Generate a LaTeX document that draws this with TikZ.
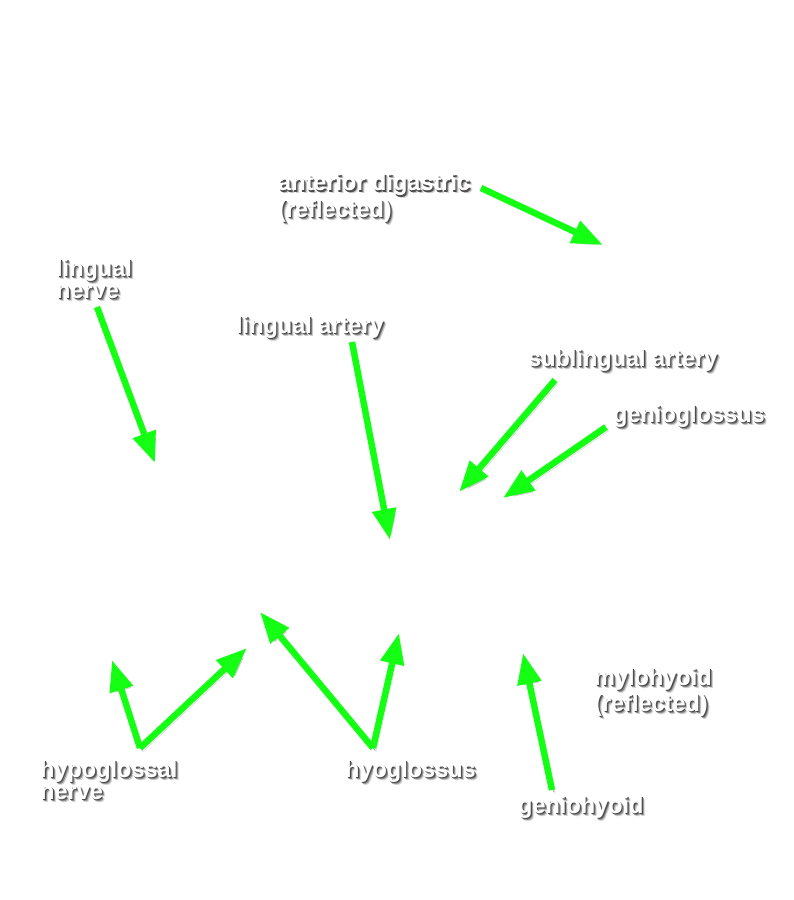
\documentclass[tikz,border=0pt]{standalone}
\usepackage{fontspec}
\setmainfont{Liberation Sans}[BoldFont={Liberation Sans Bold}]
\usetikzlibrary{arrows.meta}
\definecolor{arrowgreen}{RGB}{20,255,20}
\newcommand{\shl}[3]{\makebox[0pt][l]{\hspace{#1}\raisebox{-#1}{\color{black!#2}#3}}}
\newcommand{\shd}[1]{\shl{3pt}{18}{#1}\shl{2pt}{45}{#1}\shl{1.1pt}{70}{#1}#1}

\begin{document}
\begin{tikzpicture}[x=1pt,y=-1pt]
\useasboundingbox (0,0) rectangle (794,900);
\fill[white] (0,0) rectangle (794,900);

\begin{scope}[every node/.style={anchor=base west,inner sep=0pt,align=left,text=white,
              font=\fontsize{23.5}{22}\selectfont\bfseries}]
    \node (digastric) at (278,217) {\shd{anterior digastric}\\\shd{(reflected)}};
    \node (lnerve) at (56,298) {\shd{lingual}\\\shd{nerve}};
    \node (lartery) at (236,333) {\shd{lingual artery}};
    \node (sublingual) at (528,366) {\shd{sublingual artery}};
    \node (genioglossus) at (613,422) {\shd{genioglossus}};
    \node (mylohyoid) at (594,711) {\shd{mylohyoid}\\\shd{(reflected)}};
    \node (hypoglossal) at (40,799) {\shd{hypoglossal}\\\shd{nerve}};
    \node (hyoglossus) at (345,777) {\shd{hyoglossus}};
    \node (geniohyoid) at (518,813) {\shd{geniohyoid}};
\end{scope}

% arrow ends
\coordinate (dig-t) at (481,188);   \coordinate (dig-h) at (603,245);
\coordinate (ln-t) at (97,307);     \coordinate (ln-h) at (155,463);
\coordinate (la-t) at (352,342);    \coordinate (la-h) at (390,540);
\coordinate (sub-t) at (555,380);   \coordinate (sub-h) at (459,492);
\coordinate (gg-t) at (606,427);    \coordinate (gg-h) at (503,498);
\coordinate (hn-v) at (140,748);    \coordinate (hn-h1) at (112,660);
\coordinate (hn-h2) at (247,648);
\coordinate (hg-v) at (373,748);    \coordinate (hg-h1) at (260,612);
\coordinate (hg-h2) at (399,633);
\coordinate (gh-t) at (552,790);    \coordinate (gh-h) at (523,653);

\begin{scope}[>={Triangle[length=31pt,width=23pt]},
              every edge/.style={draw=arrowgreen,line width=6.5pt,
                preaction={draw=black!20,transform canvas={shift={(3pt,-3.5pt)}}},
                preaction={draw=black!45,transform canvas={shift={(1.8pt,-2.2pt)}}}}]
    \path [->] (dig-t) edge (dig-h);
    \path [->] (ln-t) edge (ln-h);
    \path [->] (la-t) edge (la-h);
    \path [->] (sub-t) edge (sub-h);
    \path [->] (gg-t) edge (gg-h);
    \path [->] (hn-v) edge (hn-h1);
    \path [->] (hn-v) edge (hn-h2);
    \path [->] (hg-v) edge (hg-h1);
    \path [->] (hg-v) edge (hg-h2);
    \path [->] (gh-t) edge (gh-h);
\end{scope}
\end{tikzpicture}
\end{document}
